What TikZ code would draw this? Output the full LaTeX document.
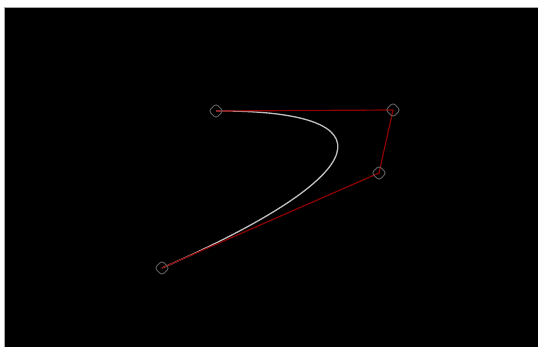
\documentclass[tikz,border=0pt]{standalone}
\usepackage{tikz}
\usetikzlibrary{shapes.geometric}
\definecolor{hullred}{RGB}{140,0,0}
\definecolor{curvegray}{RGB}{190,190,190}
\definecolor{markgray}{RGB}{95,95,95}

\begin{document}
\begin{tikzpicture}[
  x=1pt, y=-1pt,
  handle/.style={diamond, draw=markgray, rounded corners=3pt, minimum width=15pt, minimum height=15pt, inner sep=0pt, line width=0.9pt},
  hull/.style={draw=hullred, line width=1.2pt},
  bez/.style={draw=curvegray, line width=1.3pt},
]
% ---- canvas
\useasboundingbox (0,0) rectangle (538,347);
\fill[white] (0,0) rectangle (538,347);
\draw[fill=black, draw=gray!70] (4.5,7.5) rectangle (540,349);

% ---- control points
\coordinate (c0) at (216,111);
\coordinate (c1) at (393,110);
\coordinate (c2) at (379,173);
\coordinate (c3) at (162,268);

% ---- curve and hull
\draw[bez] (c0) .. controls (c1) and (c2) .. (c3);
\draw[hull] (c0) -- (c1) -- (c2) -- (c3);

% ---- handles
\node[handle] (p0) at (c0) {};
\node[handle] (p1) at (c1) {};
\node[handle] (p2) at (c2) {};
\node[handle] (p3) at (c3) {};
\end{tikzpicture}
\end{document}
